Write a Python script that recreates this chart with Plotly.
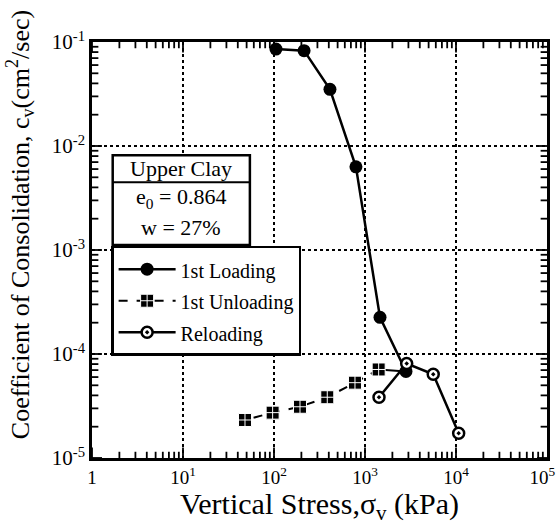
import plotly.graph_objects as go

# Data
load_x = [105, 214, 412, 795, 1462, 2820]
load_y = [0.0855, 0.0826, 0.0351, 0.0063, 2.25e-4, 6.8e-5]

unload_x = [1413, 776, 385, 193, 96.6, 48]
unload_y = [7.1e-5, 5.3e-5, 3.84e-5, 3.11e-5, 2.73e-5, 2.32e-5]

reload_x = [1425, 2870, 5620, 10700]
reload_y = [3.84e-5, 8.1e-5, 6.38e-5, 1.73e-5]

x_tickvals = [1, 10, 100, 1000, 10000, 100000]
x_ticktext = ["1", "10<sup>1</sup>", "10<sup>2</sup>", "10<sup>3</sup>", "10<sup>4</sup>",
              "10<sup>5</sup>\u00a0\u00a0"]
y_tickvals = [1e-5, 1e-4, 1e-3, 1e-2, 1e-1]
y_ticktext = ["10<sup>-5</sup>", "10<sup>-4</sup>", "10<sup>-3</sup>", "10<sup>-2</sup>", "10<sup>-1</sup>"]

series_names = ["1st Loading", "1st Unloading", "Reloading"]
info_lines = ["Upper Clay", "e<sub>0</sub> = 0.864", "w = 27%"]
x_title = "Vertical Stress,σ<sub>v</sub> (kPa)"
y_title = "Coefficient of Consolidation, c<sub>v</sub>(cm<sup>2</sup>/sec)"

FONT = "Liberation Serif"
X_MIN, X_MAX = 1.0, 1e5
Y_MIN, Y_MAX = 1e-5, 1e-1


def leg(name):
    return '<span style="font-size:20px">' + name + '</span>'


# inside tick marks on all four sides (digits 1..9 of every decade), drawn as a line trace
tick_x, tick_y = [], []
for d in range(0, 5):
    for m in range(1, 10):
        v = m * 10.0 ** d
        f = 10 ** (0.10 if m == 1 else 0.06)
        tick_x += [v, v, None, v, v, None]
        tick_y += [Y_MIN, Y_MIN * f, None, Y_MAX, Y_MAX / f, None]
for d in range(-5, -1):
    for m in range(1, 10):
        v = m * 10.0 ** d
        f = 10 ** (0.11 if m == 1 else 0.07)
        tick_x += [X_MIN, X_MIN * f, None, X_MAX, X_MAX / f, None]
        tick_y += [v, v, None, v, v, None]

fig = go.Figure()

fig.add_trace(go.Scatter(x=tick_x, y=tick_y, mode="lines", line=dict(color="black", width=1.8),
                         showlegend=False, hoverinfo="skip", connectgaps=False))

# connector from last loading point to first unloading point
fig.add_trace(go.Scatter(x=[load_x[-1], unload_x[0]], y=[load_y[-1], unload_y[0]],
                         mode="lines", line=dict(color="black", width=2),
                         showlegend=False, hoverinfo="skip"))

fig.add_trace(go.Scatter(x=load_x, y=load_y, mode="lines+markers", name=leg(series_names[0]),
                         line=dict(color="black", width=2.5),
                         marker=dict(symbol="circle", size=13, color="black")))
fig.add_trace(go.Scatter(x=unload_x, y=unload_y, mode="lines+markers", name=leg(series_names[1]),
                         line=dict(color="black", width=2, dash="dash"),
                         marker=dict(symbol="square-cross", size=13, color="black",
                                     line=dict(color="white", width=1))))
fig.add_trace(go.Scatter(x=reload_x, y=reload_y, mode="lines+markers", name=leg(series_names[2]),
                         line=dict(color="black", width=2.5),
                         marker=dict(symbol="circle-dot", size=11, color="white",
                                     line=dict(color="black", width=2.5))))

axis_common = dict(
    type="log", showline=True, linecolor="black", linewidth=2.5, mirror=True,
    ticks="", showgrid=True, gridcolor="black", griddash="dot", gridwidth=1.8,
    zeroline=False, automargin=False, ticklabeloverflow="allow",
)

fig.update_layout(
    xaxis=dict(range=[0, 5], tickmode="array", tickvals=x_tickvals, ticktext=x_ticktext,
               tickfont=dict(family=FONT, size=19, color="black"),
               title=dict(text=x_title, font=dict(family=FONT, size=30, color="black"), standoff=0),
               **axis_common),
    yaxis=dict(range=[-5, -1], tickmode="array", tickvals=y_tickvals, ticktext=y_ticktext,
               tickfont=dict(family=FONT, size=21, color="black"),
               **axis_common),
)

# y-axis title placed as a rotated annotation (sits a little above centre in the reference)
fig.add_annotation(text=y_title, xref="paper", yref="paper", x=-0.158, y=0.56,
                   xanchor="center", yanchor="middle", textangle=-90, showarrow=False,
                   font=dict(family=FONT, size=26, color="black"))

# Info box (Upper Clay)
box_x0, box_x1 = 0.0455, 0.347
fig.add_shape(type="rect", xref="paper", yref="paper", x0=box_x0, x1=box_x1, y0=0.512, y1=0.728,
              line=dict(color="black", width=2.5), fillcolor="white", layer="above")
fig.add_shape(type="line", xref="paper", yref="paper", x0=box_x0, x1=box_x1, y0=0.663, y1=0.663,
              line=dict(color="black", width=2), layer="above")
info_y = [0.697, 0.625, 0.555]
for t, yy in zip(info_lines, info_y):
    fig.add_annotation(text=t, xref="paper", yref="paper", x=(box_x0 + box_x1) / 2, y=yy,
                       xanchor="center", yanchor="middle",
                       showarrow=False, font=dict(family=FONT, size=22, color="black"))

fig.update_layout(
    width=558, height=525,
    margin=dict(l=92, r=11, t=42, b=67),
    paper_bgcolor="white", plot_bgcolor="white",
    showlegend=True,
    legend=dict(x=0.042, y=0.51, xanchor="left", yanchor="top",
                bgcolor="white", bordercolor="black", borderwidth=2.5,
                font=dict(family=FONT, size=22, color="black"),
                tracegroupgap=0, itemwidth=57),
)

fig.write_html("out.html")
